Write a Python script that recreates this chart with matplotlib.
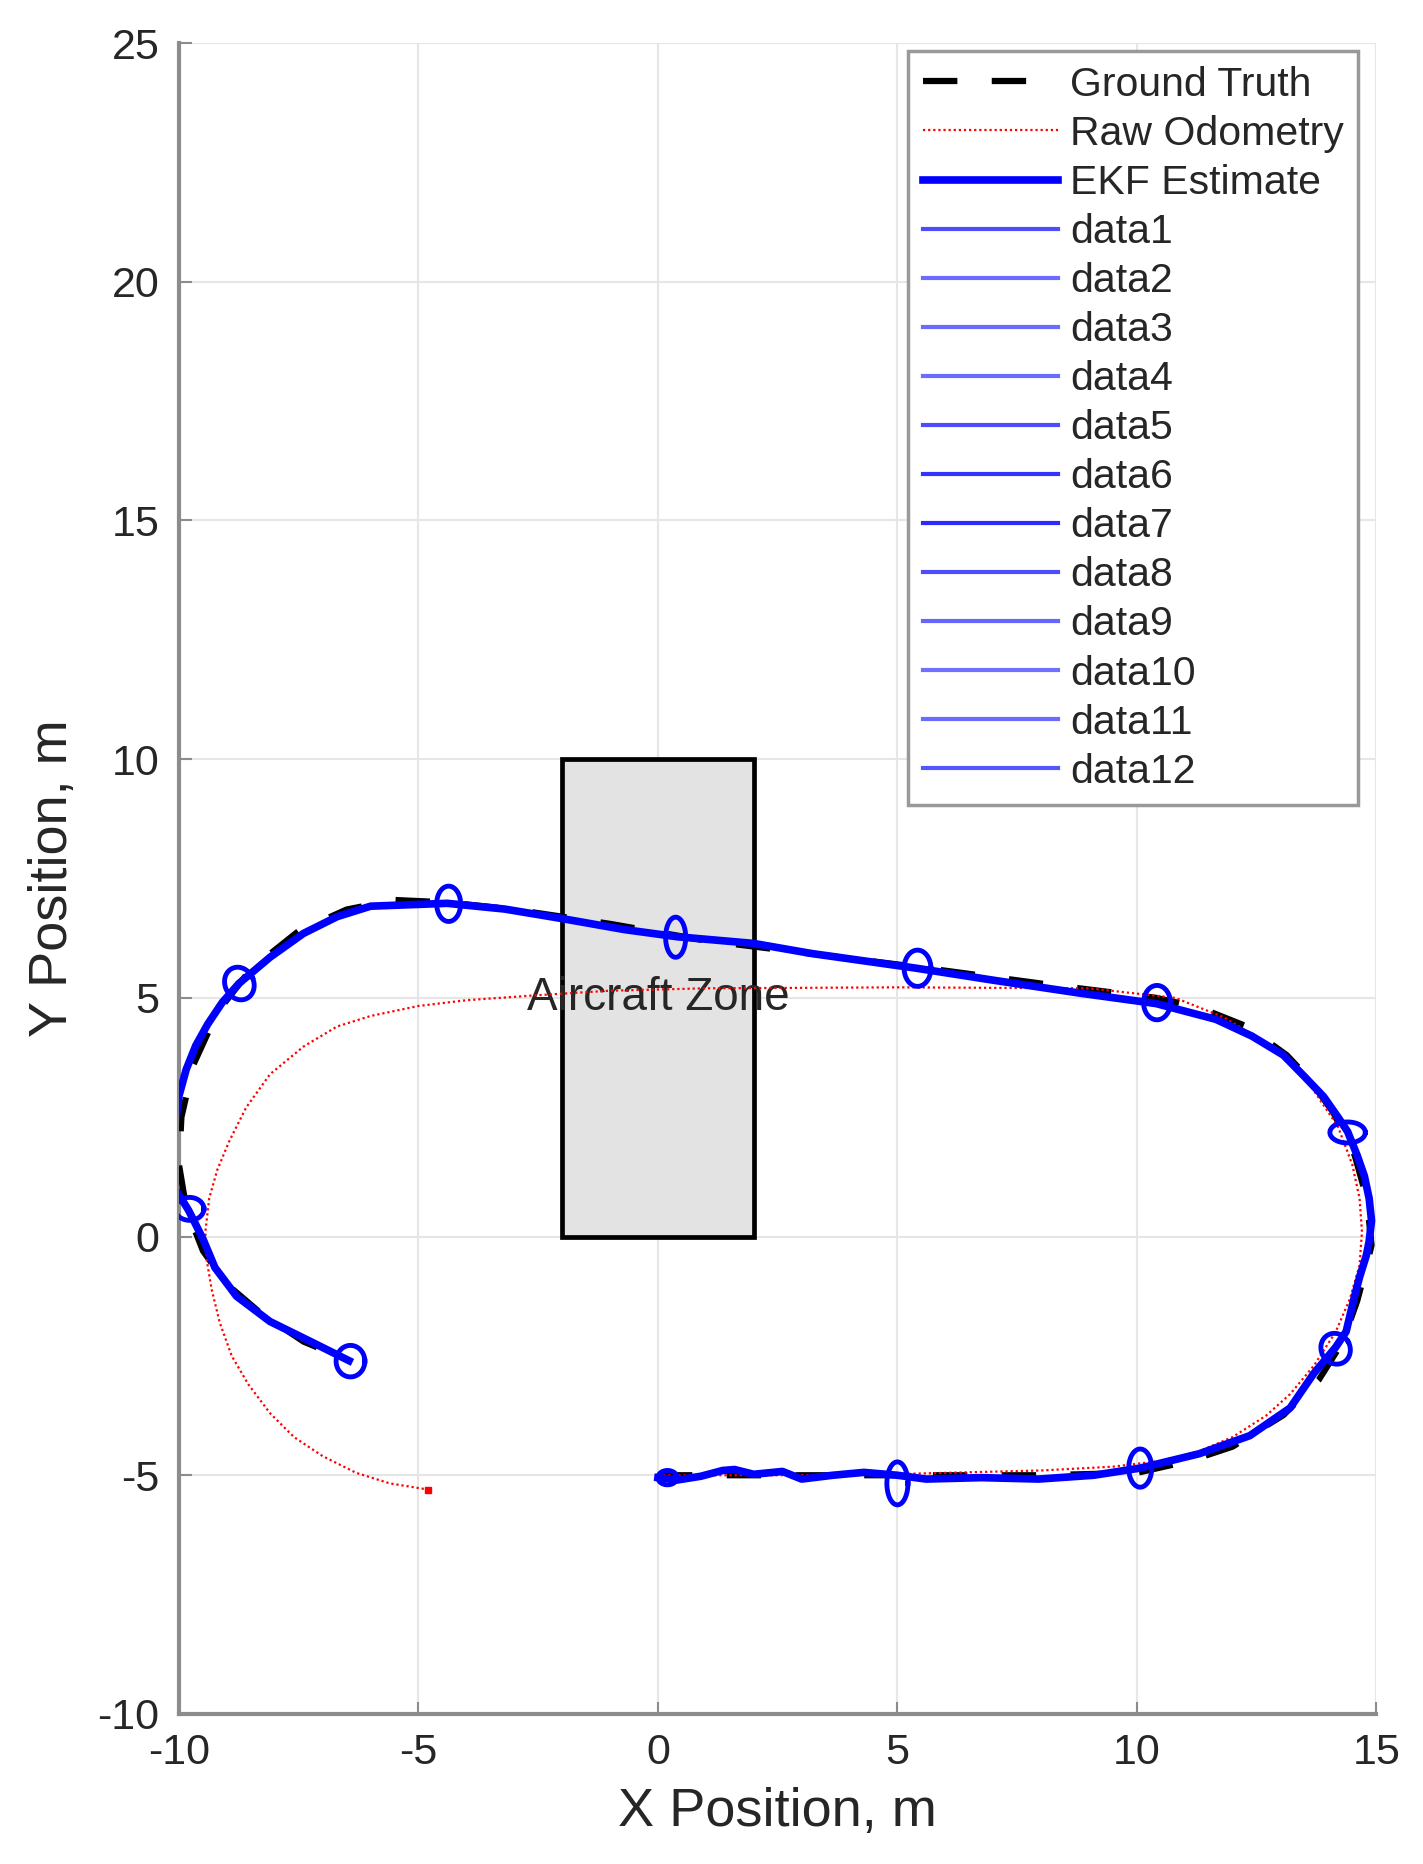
import numpy as np
import matplotlib
matplotlib.use("Agg")
import matplotlib.pyplot as plt
from matplotlib.patches import Rectangle

plt.rcParams["font.family"] = ["Liberation Sans", "DejaVu Sans"]

# ground truth path (x, y)
gt_x = [0, 2, 4, 6, 8, 10, 11.1, 12.0, 13.06, 13.8, 14.3, 14.6, 14.8, 14.9, 14.8, 14.55,
        14.1, 13.6, 13.13, 12.3, 11.3, 10.4, 8, 5.4, 3, 1, -1, -3, -4.4, -5.5, -6.5, -7.5,
        -8.5, -9.2, -9.7, -9.95, -10, -9.85, -9.5, -9.0, -8.3, -7.4, -6.45]
gt_y = [-5, -5, -5, -5, -5, -4.95, -4.7, -4.4, -3.74, -3.0, -2.2, -1.35, -0.6, -0.18, 0.8,
        1.7, 2.6, 3.3, 3.8, 4.4, 4.8, 5.0, 5.3, 5.65, 5.95, 6.2, 6.55, 6.85, 7.0, 7.05, 6.85,
        6.4, 5.6, 4.7, 3.6, 2.5, 1.5, 0.6, -0.3, -1.0, -1.6, -2.2, -2.6]

# raw odometry
odo_x = [0, 4, 6, 8, 9.5, 10.5, 11.3, 12.0, 12.7, 13.2, 13.7, 14.15, 14.45, 14.65, 14.7,
         14.65, 14.5, 14.2, 13.6, 12.8, 11.8, 10.8, 9, 5, 1, -1, -2.6, -4, -5, -6, -6.7,
         -7.4, -8.1, -8.6, -8.95, -9.2, -9.37, -9.45, -9.42, -9.32, -9.15, -8.9, -8.55,
         -8.1, -7.6, -7.0, -6.3, -5.6, -4.8]
odo_y = [-5, -5, -4.95, -4.9, -4.82, -4.7, -4.5, -4.2, -3.75, -3.3, -2.7, -2.0, -1.3, -0.6,
         0.1, 0.8, 1.5, 2.3, 3.2, 4.0, 4.6, 5.0, 5.2, 5.22, 5.2, 5.15, 5.05, 4.95, 4.83, 4.62,
         4.4, 3.98, 3.4, 2.7, 2.0, 1.4, 0.8, 0.1, -0.5, -1.1, -1.8, -2.5, -3.1, -3.7, -4.2,
         -4.6, -4.95, -5.17, -5.3]

# EKF estimate
ekf_x = [0, 0.4, 0.9, 1.35, 1.6, 2.0, 2.6, 3.0, 3.65, 4.3, 5.0, 5.6, 6.75, 7.95, 9.1, 10.07,
         11.3, 12.36, 13.2, 13.7, 14.15, 14.37, 14.54, 14.65, 14.79, 14.85, 14.9, 14.85,
         14.75, 14.6, 14.4, 14.2, 13.9, 13.5, 13.06, 12.4, 11.65, 10.4, 8.8, 7.0, 5.4, 3.2,
         2.0, 0.4, -0.7, -2.0, -3.2, -4.4, -6.0, -6.7, -7.4, -8.1, -8.75, -9.1, -9.4, -9.65,
         -9.85, -10.0, -10.12, -10.08, -9.8, -9.5, -9.25, -8.8, -8.1, -7.25, -6.45]
ekf_y = [-5.05, -5.1, -5.02, -4.9, -4.88, -4.98, -4.92, -5.08, -5.0, -4.94, -5.0, -5.08,
         -5.05, -5.08, -5.0, -4.85, -4.55, -4.17, -3.59, -2.86, -2.32, -1.99, -1.27, -0.85,
         -0.4, -0.1, 0.33, 0.8, 1.27, 1.7, 2.2, 2.5, 2.93, 3.35, 3.8, 4.2, 4.55, 4.88, 5.1,
         5.37, 5.62, 5.93, 6.14, 6.28, 6.43, 6.66, 6.86, 6.98, 6.92, 6.7, 6.35, 5.85, 5.3,
         4.9, 4.45, 4.0, 3.5, 2.95, 2.0, 1.0, 0.55, -0.05, -0.65, -1.25, -1.78, -2.2, -2.6]

# covariance ellipses: centre, half-widths, tilt (deg)
ell_cx = [0.2, 5.0, 10.07, 14.15, 14.4, 10.42, 5.42, 0.37, -4.37, -8.74, -9.78, -6.42]
ell_cy = [-5.05, -5.17, -4.85, -2.35, 2.18, 4.9, 5.62, 6.27, 6.97, 5.3, 0.58, -2.61]
ell_a = [0.2, 0.22, 0.24, 0.3, 0.37, 0.28, 0.28, 0.21, 0.25, 0.3, 0.3, 0.3]
ell_b = [0.15, 0.45, 0.4, 0.33, 0.22, 0.36, 0.38, 0.42, 0.37, 0.35, 0.24, 0.33]
ell_ang = [0, 0, 0, 30, 0, 0, 0, 0, 0, 25, 0, 0]
ell_col = ["#4d4dff", "#6b6bff", "#6b6bff", "#6b6bff", "#4d4dff", "#3333ff",
           "#2b2bff", "#4d4dff", "#6666ff", "#7070ff", "#6b6bff", "#5555ff"]

zone_x = [-2, 2]
zone_y = [0, 10]

fig = plt.figure(figsize=(14.23, 18.64), dpi=100)
ax = fig.add_axes([0.1258, 0.0805, 0.8414, 0.8964])

ax.add_patch(Rectangle((zone_x[0], zone_y[0]), zone_x[1] - zone_x[0], zone_y[1] - zone_y[0],
                       facecolor="#e3e3e3", edgecolor="black", lw=3.4, zorder=2))
ax.text((zone_x[0] + zone_x[1]) / 2, (zone_y[0] + zone_y[1]) / 2, "Aircraft Zone",
        ha="center", va="center", fontsize=33, color="#262626", zorder=3)

ax.plot(gt_x, gt_y, color="black", lw=4.5, dashes=(5.5, 5.5), label="Ground Truth", zorder=4)
ax.plot(odo_x, odo_y, color="red", lw=1.6, ls=(0, (1, 1.3)), label="Raw Odometry", zorder=5)
ax.plot(odo_x[-1:], odo_y[-1:], "s", color="red", ms=4, zorder=5)
ax.plot(ekf_x, ekf_y, color="blue", lw=5.5, label="EKF Estimate", zorder=6,
        solid_joinstyle="round")

t = np.linspace(0, 2 * np.pi, 80)
for i in range(len(ell_cx)):
    th = np.radians(ell_ang[i])
    ex = ell_a[i] * np.cos(t)
    ey = ell_b[i] * np.sin(t)
    px = ell_cx[i] + ex * np.cos(th) - ey * np.sin(th)
    py = ell_cy[i] + ex * np.sin(th) + ey * np.cos(th)
    ax.plot(px, py, color="blue", lw=3.5, zorder=7)
    # legend entries use the lighter line colours
    ax.plot([], [], color=ell_col[i], lw=3, label="data" + str(i + 1))

ax.set_xlim(-10, 15)
ax.set_ylim(-10, 25)
ax.set_xticks([-10, -5, 0, 5, 10, 15])
ax.set_yticks([-10, -5, 0, 5, 10, 15, 20, 25])
ax.set_xticklabels(["-10", "-5", "0", "5", "10", "15"])
ax.set_yticklabels(["-10", "-5", "0", "5", "10", "15", "20", "25"])
ax.grid(True, color="#e6e6e6", lw=1.5)
ax.set_axisbelow(True)
for s in ["top", "right"]:
    ax.spines[s].set_visible(False)
for s in ["left", "bottom"]:
    ax.spines[s].set_color("#8c8c8c")
    ax.spines[s].set_linewidth(3)
ax.tick_params(direction="in", length=9, width=1.5, color="#8c8c8c",
               labelsize=31, labelcolor="#262626", pad=14)
ax.set_xlabel("X Position, m", fontsize=39, color="#262626", labelpad=10)
ax.set_ylabel("Y Position, m", fontsize=39, color="#262626", labelpad=14)

hs, ls = ax.get_legend_handles_labels()
leg = ax.legend(hs, ls, loc="upper right", bbox_to_anchor=(0.985, 0.995), borderaxespad=0,
                fontsize=29.5, handlelength=3.3, handletextpad=0.3, labelspacing=0.27,
                borderpad=0.35, frameon=True, fancybox=False, framealpha=1)
leg.get_frame().set_edgecolor("#999999")
leg.get_frame().set_linewidth(2.5)
for txt in leg.get_texts():
    txt.set_color("#262626")

fig.savefig("out.png", dpi=100)
